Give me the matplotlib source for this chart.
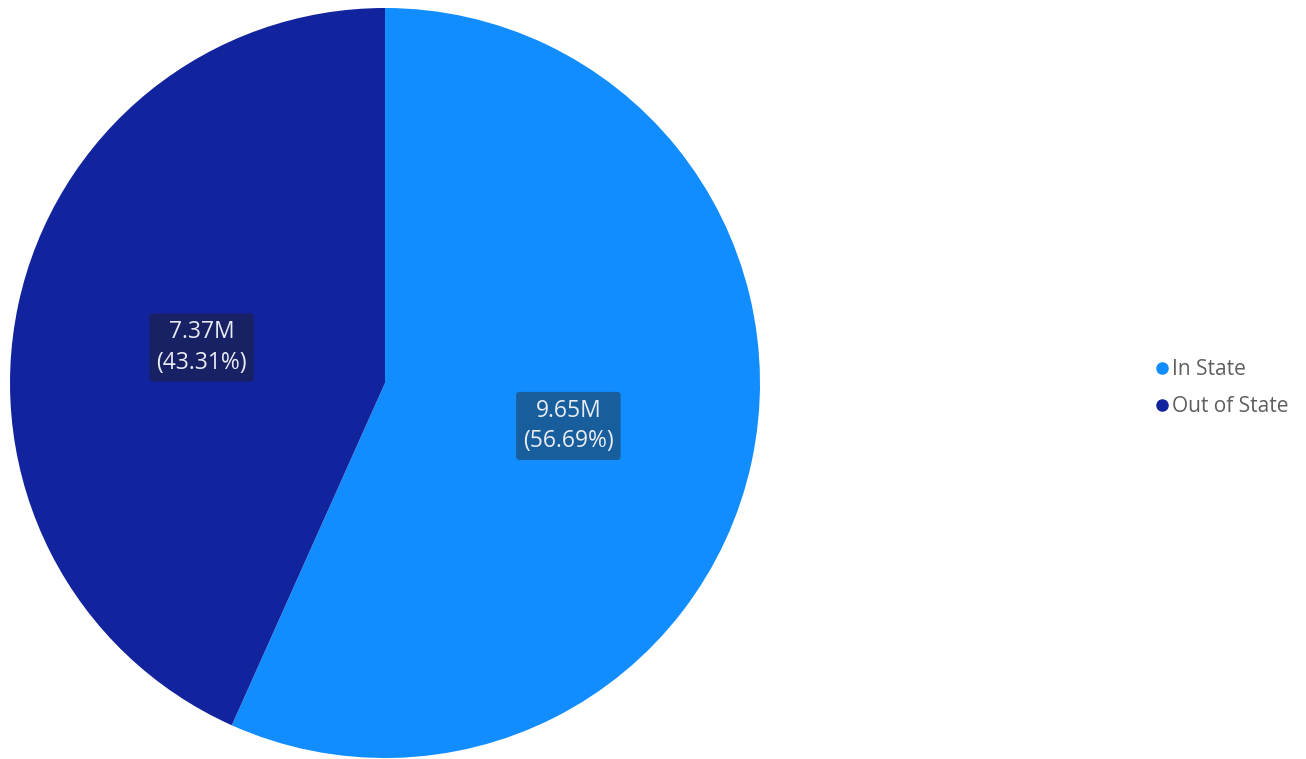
import matplotlib.pyplot as plt
from matplotlib.lines import Line2D
import numpy as np

labels = ['In State', 'Out of State']
values = [9.65, 7.37]          # millions
pct_text = ['56.69%', '43.31%']
colors = ['#118DFF', '#12239E']
box_colors = ['#1A5A94', '#1A2160']

plt.rcParams['font.family'] = ['Open Sans', 'DejaVu Sans']

fig = plt.figure(figsize=(13.06, 7.59), dpi=100)
ax = fig.add_axes([10 / 1306, 1 / 759, 750 / 1306, 750 / 759])

wedges, _ = ax.pie(values, colors=colors, startangle=90, counterclock=False,
                   wedgeprops=dict(linewidth=0))
ax.set_xlim(-1, 1)
ax.set_ylim(-1, 1)
ax.set_aspect('equal')

for w, v, p, bc in zip(wedges, values, pct_text, box_colors):
    ang = np.deg2rad((w.theta1 + w.theta2) / 2)
    x, y = 0.5 * np.cos(ang), 0.5 * np.sin(ang)
    ax.text(x, y - 0.01, f'{v:.2f}M\n({p})', ha='center', va='center', color='#E8ECF4',
            fontsize=16.5, linespacing=1.35,
            bbox=dict(boxstyle='round,pad=0.3,rounding_size=0.15', fc=bc, ec='none', alpha=0.92))

handles = [Line2D([0], [0], marker='o', linestyle='none', markersize=8,
                  markerfacecolor=c, markeredgecolor=c) for c in colors]
fig.legend(handles, labels, loc='center left', bbox_to_anchor=(1143 / 1306, 1 - 388 / 759),
           frameon=False, fontsize=15, labelcolor='#605E5C', handletextpad=0.0,
           handlelength=1.0, labelspacing=0.75, borderaxespad=0)

fig.savefig('out.png', dpi=100)
